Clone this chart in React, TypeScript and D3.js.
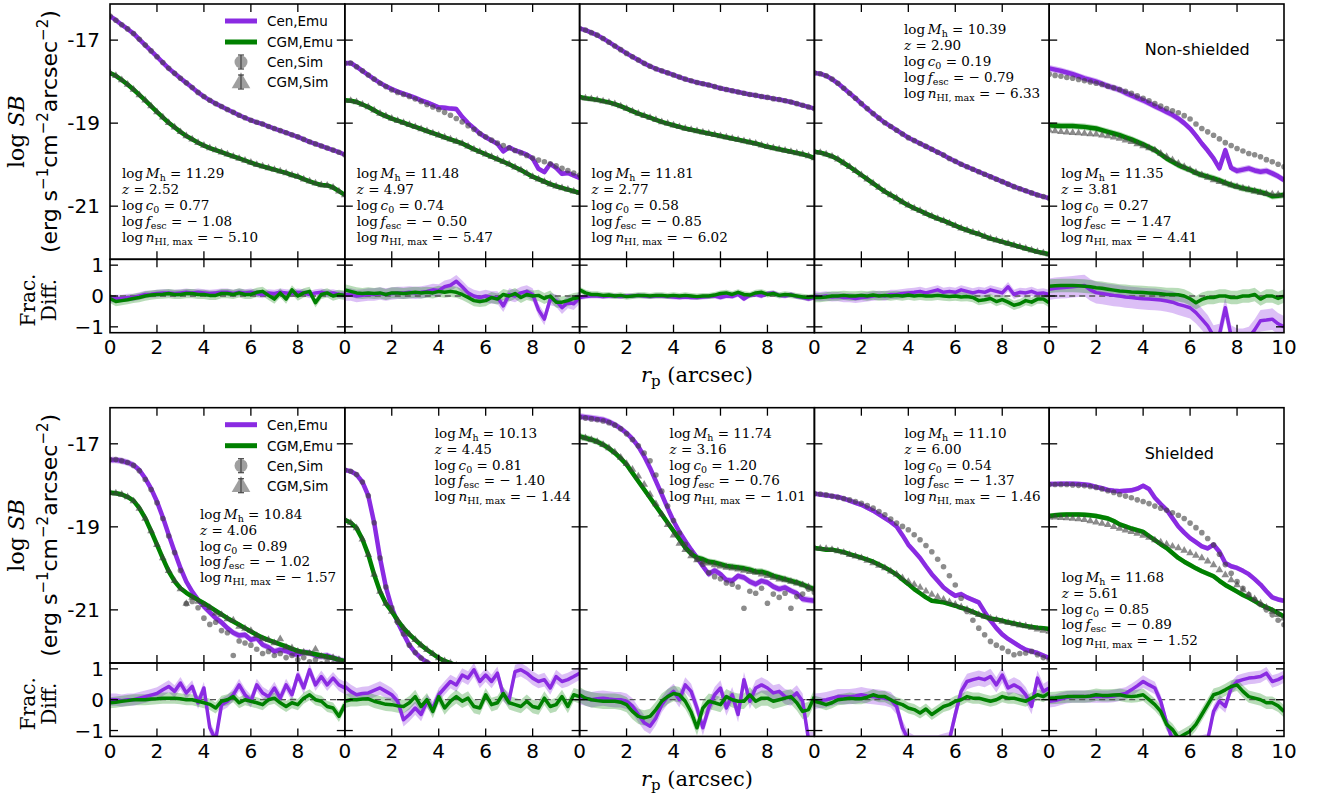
import React from "react";
import * as d3 from "d3";

// ---------------- data ----------------
const rp = [0,0.25,0.5,0.75,1,1.25,1.5,1.75,2,2.25,2.5,2.75,3,3.25,3.5,3.75,4,4.25,4.5,4.75,5,5.25,5.5,5.75,6,6.25,6.5,6.75,7,7.25,7.5,7.75,8,8.25,8.5,8.75,9,9.25,9.5,9.75,10];
const xTickVals = [0, 2, 4, 6, 8, 10];
const yTickMain = [-17, -19, -21];
const yTickRes = [1, 0, -1];

const LOG_MH = [11.29, 11.48, 11.81, 10.39, 11.35, 10.84, 10.13, 11.74, 11.10, 11.68];
const Z_RED = [2.52, 4.97, 2.77, 2.90, 3.81, 4.06, 4.45, 3.16, 6.00, 5.61];
const LOG_C0 = [0.77, 0.74, 0.58, 0.19, 0.27, 0.89, 0.81, 1.20, 0.54, 0.85];
const LOG_FESC = [-1.08, -0.50, -0.85, -0.79, -1.47, -1.02, -1.40, -0.76, -1.37, -0.89];
const LOG_NHI = [-5.10, -5.47, -6.02, -6.33, -4.41, -1.57, -1.44, -1.01, -1.46, -1.52];

const MAIN_BAND_CEN = [0.04, 0.06, 0.03, 0.05, 0.08, 0.08, 0.05, 0.08, 0.06, 0.06];
const MAIN_BAND_CGM = [0.04, 0.05, 0.03, 0.05, 0.08, 0.06, 0.05, 0.08, 0.05, 0.06];
const RES_BAND_CEN = [0.12, 0.2, 0.08, 0.15, 0.35, 0.2, 0.22, 0.25, 0.25, 0.2];
const RES_BAND_CGM = [0.15, 0.18, 0.1, 0.15, 0.22, 0.18, 0.22, 0.25, 0.18, 0.2];

// top row
const T1_CEN = [-16.42,-16.52,-16.63,-16.73,-16.84,-16.98,-17.12,-17.26,-17.40,-17.54,-17.68,-17.80,-17.92,-18.03,-18.14,-18.26,-18.36,-18.45,-18.53,-18.60,-18.67,-18.74,-18.81,-18.87,-18.93,-18.98,-19.02,-19.08,-19.13,-19.18,-19.23,-19.28,-19.33,-19.39,-19.45,-19.50,-19.55,-19.60,-19.65,-19.70,-19.76];
const T1_CGM = [-17.79,-17.86,-17.96,-18.07,-18.19,-18.32,-18.45,-18.59,-18.73,-18.86,-18.99,-19.10,-19.21,-19.31,-19.39,-19.47,-19.54,-19.60,-19.65,-19.70,-19.75,-19.80,-19.85,-19.90,-19.95,-20.00,-20.04,-20.08,-20.12,-20.16,-20.20,-20.25,-20.29,-20.35,-20.40,-20.45,-20.49,-20.50,-20.55,-20.64,-20.73];
const T1_RES_CEN = [-0.10,-0.08,-0.08,-0.05,-0.05,0.00,0.05,0.06,0.08,0.10,0.10,0.08,0.10,0.12,0.10,0.12,0.10,0.08,0.10,0.12,0.12,0.08,0.12,0.10,0.12,0.08,0.05,0.10,0.08,0.12,0.10,0.08,0.12,0.10,0.05,0.10,0.12,0.08,0.10,0.05,0.05];
const T1_RES_CGM = [-0.08,-0.18,-0.15,-0.12,-0.08,-0.05,0.00,0.03,0.05,0.06,0.08,0.05,0.05,0.08,0.08,0.05,0.05,0.02,0.02,0.08,0.08,0.05,0.10,0.05,0.05,0.12,0.15,0.02,-0.10,0.10,-0.10,0.20,0.00,0.10,0.15,-0.22,0.05,0.10,0.00,0.05,0.02];

const T2_CEN_SIM = [-17.56,-17.55,-17.64,-17.74,-17.84,-17.94,-18.04,-18.12,-18.20,-18.26,-18.31,-18.36,-18.42,-18.48,-18.55,-18.61,-18.67,-18.74,-18.81,-18.89,-18.97,-19.06,-19.15,-19.25,-19.33,-19.41,-19.48,-19.54,-19.60,-19.66,-19.72,-19.78,-19.84,-19.89,-19.93,-19.98,-20.03,-20.09,-20.14,-20.20,-20.25];
const T2_CEN_EMU = [-17.56,-17.55,-17.64,-17.74,-17.84,-17.94,-18.03,-18.11,-18.18,-18.24,-18.29,-18.34,-18.39,-18.45,-18.50,-18.56,-18.62,-18.63,-18.65,-18.66,-18.85,-19.00,-19.12,-19.25,-19.34,-19.42,-19.50,-19.68,-19.58,-19.66,-19.70,-19.76,-19.85,-20.10,-20.18,-19.98,-20.08,-20.22,-20.20,-20.26,-20.32];
const T2_CGM = [-18.45,-18.46,-18.49,-18.55,-18.61,-18.69,-18.77,-18.83,-18.89,-18.94,-18.99,-19.04,-19.09,-19.14,-19.19,-19.24,-19.29,-19.34,-19.39,-19.44,-19.49,-19.56,-19.63,-19.69,-19.75,-19.81,-19.87,-19.93,-19.99,-20.06,-20.13,-20.21,-20.29,-20.35,-20.41,-20.47,-20.52,-20.56,-20.60,-20.64,-20.68];
const T2_RES_CEN = [0.05,0.05,0.00,0.02,0.05,0.05,0.08,0.05,0.08,0.10,0.10,0.12,0.10,0.12,0.15,0.20,0.18,0.30,0.35,0.48,0.30,0.10,0.00,-0.05,0.00,-0.05,-0.05,-0.32,0.05,0.00,0.10,0.15,0.05,-0.45,-0.75,-0.10,-0.15,-0.38,-0.20,-0.25,-0.05];
const T2_RES_CGM = [0.20,0.15,0.10,0.08,0.10,0.08,0.10,0.05,0.10,0.10,0.08,0.10,0.12,0.10,0.12,0.10,0.15,0.12,0.15,0.12,0.05,-0.05,-0.15,-0.18,-0.15,-0.05,-0.10,0.05,0.00,0.08,-0.05,0.05,0.00,0.02,-0.08,0.00,-0.20,-0.20,-0.15,-0.08,-0.05];

const T3_CEN = [-16.72,-16.76,-16.82,-16.88,-16.96,-17.05,-17.14,-17.23,-17.32,-17.40,-17.48,-17.56,-17.63,-17.69,-17.74,-17.79,-17.84,-17.89,-17.94,-17.98,-18.02,-18.05,-18.08,-18.12,-18.16,-18.19,-18.22,-18.25,-18.28,-18.31,-18.33,-18.36,-18.38,-18.41,-18.43,-18.46,-18.49,-18.53,-18.57,-18.61,-18.65];
const T3_CGM = [-18.37,-18.40,-18.42,-18.44,-18.47,-18.50,-18.54,-18.59,-18.65,-18.71,-18.77,-18.82,-18.87,-18.92,-18.97,-19.01,-19.05,-19.09,-19.13,-19.16,-19.19,-19.22,-19.25,-19.28,-19.31,-19.34,-19.37,-19.40,-19.43,-19.46,-19.49,-19.53,-19.57,-19.60,-19.63,-19.66,-19.69,-19.72,-19.75,-19.79,-19.84];
const T3_RES_CEN = [-0.05,-0.02,0.00,0.00,-0.02,0.00,0.00,-0.02,0.00,0.00,0.02,0.00,-0.02,0.00,0.00,-0.02,-0.03,-0.05,-0.03,-0.05,-0.05,-0.03,-0.02,0.00,-0.05,0.00,-0.02,0.05,-0.10,0.02,0.05,0.00,0.08,0.10,0.02,0.00,0.05,-0.02,-0.05,-0.10,-0.05];
const T3_RES_CGM = [0.20,0.10,0.05,0.05,0.02,0.03,0.00,0.02,-0.02,0.00,0.02,0.02,0.00,0.02,0.02,0.00,0.02,0.00,0.02,0.00,-0.02,0.00,0.00,0.03,0.08,0.10,0.05,0.12,0.05,0.03,0.10,0.12,0.05,0.08,0.02,0.05,0.03,0.00,-0.03,-0.05,-0.02];

const T4_CEN = [-17.79,-17.81,-17.86,-17.94,-18.04,-18.16,-18.28,-18.40,-18.53,-18.65,-18.77,-18.88,-18.99,-19.08,-19.17,-19.26,-19.35,-19.42,-19.49,-19.56,-19.63,-19.70,-19.77,-19.85,-19.92,-19.99,-20.05,-20.11,-20.17,-20.23,-20.29,-20.35,-20.41,-20.47,-20.53,-20.58,-20.63,-20.68,-20.73,-20.77,-20.81];
const T4_CGM = [-19.69,-19.71,-19.75,-19.80,-19.87,-19.96,-20.05,-20.15,-20.25,-20.35,-20.45,-20.55,-20.65,-20.73,-20.81,-20.90,-20.98,-21.05,-21.11,-21.18,-21.24,-21.30,-21.35,-21.41,-21.47,-21.53,-21.58,-21.63,-21.67,-21.73,-21.78,-21.82,-21.86,-21.90,-21.94,-21.98,-22.02,-22.06,-22.10,-22.13,-22.16];
const T4_RES_CEN = [0.00,-0.02,0.00,-0.03,-0.02,-0.05,-0.05,-0.08,-0.05,-0.03,0.00,0.02,0.00,0.05,0.05,0.08,0.10,0.12,0.15,0.10,0.15,0.20,0.12,0.15,0.12,0.20,0.15,0.10,0.15,0.12,0.20,0.15,0.10,0.30,0.05,0.12,0.10,0.15,0.08,0.10,0.05];
const T4_RES_CGM = [-0.05,-0.05,-0.03,0.00,0.00,0.02,0.00,0.00,0.02,0.00,0.03,0.00,0.02,0.00,0.02,0.00,0.03,0.00,0.02,0.00,0.00,0.02,0.00,-0.02,0.00,-0.03,-0.02,-0.05,-0.15,-0.12,-0.08,-0.18,-0.12,-0.20,-0.30,-0.25,-0.15,-0.20,-0.10,-0.10,-0.22];

const T5_CEN_SIM = [-17.82,-17.85,-17.87,-17.90,-17.92,-17.95,-17.98,-18.01,-18.04,-18.07,-18.11,-18.15,-18.19,-18.23,-18.28,-18.34,-18.40,-18.46,-18.53,-18.59,-18.65,-18.70,-18.75,-18.82,-18.90,-19.02,-19.13,-19.21,-19.29,-19.38,-19.47,-19.54,-19.61,-19.67,-19.73,-19.76,-19.81,-19.88,-19.93,-19.99,-20.05];
const T5_CEN_EMU = [-17.68,-17.71,-17.74,-17.78,-17.82,-17.87,-17.92,-17.96,-18.00,-18.05,-18.11,-18.15,-18.20,-18.27,-18.33,-18.39,-18.45,-18.52,-18.59,-18.66,-18.73,-18.80,-18.89,-19.00,-19.13,-19.30,-19.49,-19.66,-19.85,-20.09,-19.65,-20.08,-20.15,-20.12,-20.09,-20.14,-20.17,-20.15,-20.21,-20.28,-20.37];
const T5_CGM_SIM = [-19.17,-19.19,-19.21,-19.22,-19.23,-19.24,-19.25,-19.26,-19.27,-19.29,-19.31,-19.34,-19.37,-19.41,-19.45,-19.50,-19.55,-19.60,-19.65,-19.73,-19.81,-19.89,-19.97,-20.05,-20.12,-20.19,-20.25,-20.31,-20.37,-20.41,-20.45,-20.49,-20.53,-20.57,-20.60,-20.64,-20.68,-20.70,-20.71,-20.72,-20.73];
const T5_CGM_EMU = [-19.05,-19.06,-19.07,-19.07,-19.07,-19.08,-19.09,-19.11,-19.13,-19.17,-19.21,-19.25,-19.29,-19.34,-19.39,-19.45,-19.51,-19.58,-19.65,-19.75,-19.85,-19.93,-20.01,-20.07,-20.13,-20.20,-20.25,-20.29,-20.33,-20.38,-20.44,-20.49,-20.53,-20.57,-20.60,-20.63,-20.66,-20.70,-20.76,-20.75,-20.73];
const T5_RES_CEN = [0.22,0.25,0.27,0.28,0.30,0.32,0.34,0.20,0.11,0.08,0.05,0.02,0.00,-0.03,-0.05,-0.07,-0.09,-0.10,-0.11,-0.13,-0.16,-0.20,-0.27,-0.32,-0.38,-0.54,-0.75,-0.97,-1.30,-1.25,-0.38,-1.30,-1.40,-1.40,-1.35,-1.10,-0.80,-0.78,-0.75,-0.90,-1.00];
const T5_RES_CGM = [0.32,0.33,0.34,0.34,0.34,0.33,0.32,0.30,0.27,0.25,0.22,0.19,0.16,0.15,0.13,0.12,0.11,0.10,0.09,0.07,0.05,0.05,0.04,0.00,-0.09,-0.22,-0.11,-0.05,-0.05,0.00,0.00,-0.05,-0.05,0.00,0.00,0.05,-0.10,0.00,0.00,-0.08,0.00];

// bottom row
const B1_CEN_EMU = [-17.39,-17.39,-17.41,-17.45,-17.51,-17.63,-17.83,-18.08,-18.39,-18.77,-19.19,-19.60,-19.99,-20.32,-20.56,-20.76,-20.92,-21.06,-21.20,-21.30,-21.44,-21.55,-21.62,-21.60,-21.72,-21.68,-21.84,-21.90,-22.00,-21.96,-21.99,-22.05,-22.08,-22.02,-22.04,-22.10,-22.12,-22.10,-22.16,-22.20,-22.24];
const B1_CEN_SIM = [-17.38,-17.38,-17.41,-17.45,-17.52,-17.65,-17.86,-18.10,-18.42,-18.80,-19.22,-19.62,-20.05,-20.85,-20.80,-20.95,-21.20,-21.35,-21.30,-21.50,-21.55,-22.10,-21.75,-21.80,-21.85,-21.95,-22.05,-22.00,-22.10,-22.05,-22.15,-22.10,-22.20,-22.15,-22.25,-22.20,-22.30,-22.25,-22.30,-22.35,-22.40];
const B1_CGM_EMU = [-18.18,-18.19,-18.22,-18.28,-18.37,-18.55,-18.79,-19.10,-19.43,-19.76,-20.07,-20.31,-20.48,-20.59,-20.68,-20.76,-20.84,-20.93,-21.02,-21.11,-21.20,-21.28,-21.36,-21.44,-21.52,-21.60,-21.67,-21.73,-21.78,-21.83,-21.88,-21.94,-21.99,-22.02,-22.04,-22.07,-22.10,-22.13,-22.16,-22.20,-22.24];
const B1_CGM_SIM = [-18.18,-18.19,-18.22,-18.28,-18.38,-18.56,-18.80,-19.10,-19.43,-19.75,-20.06,-20.30,-20.50,-20.85,-20.70,-20.80,-20.88,-20.95,-21.08,-21.12,-21.22,-21.25,-21.40,-21.45,-21.50,-21.62,-21.70,-21.72,-21.80,-21.70,-21.90,-21.92,-22.00,-22.02,-22.05,-21.95,-22.12,-22.15,-22.15,-22.20,-22.25];
const B1_RES_CEN = [0.00,0.00,-0.03,0.00,0.00,0.05,0.10,0.15,0.20,0.32,0.43,0.27,0.54,0.22,0.43,-0.10,0.38,-0.91,-1.30,-0.16,-0.05,0.16,0.48,0.16,-0.05,0.48,0.22,0.10,0.38,0.05,0.48,0.16,0.80,0.38,0.97,0.48,0.75,0.48,0.70,0.48,0.38];
const B1_RES_CGM = [-0.10,-0.08,-0.05,-0.03,0.00,0.00,0.00,0.02,0.03,0.05,0.05,0.05,0.03,0.00,0.00,-0.05,-0.10,-0.15,-0.27,-0.05,0.00,0.10,-0.10,0.00,-0.05,-0.10,-0.16,0.00,0.05,-0.10,-0.22,-0.10,-0.16,0.05,0.16,0.00,-0.05,-0.22,-0.27,-0.54,-0.16];

const B2_CEN = [-17.63,-17.66,-17.74,-17.92,-18.25,-18.90,-19.75,-20.45,-20.95,-21.30,-21.58,-21.85,-22.03,-22.16,-22.26,-22.34,-22.42,null,null,null,null,null,null,null,null,null,null,null,null,null,null,null,null,null,null,null,null,null,null,null,null];
const B2_CGM = [-18.83,-18.90,-19.03,-19.30,-19.67,-20.15,-20.56,-20.85,-21.04,-21.25,-21.44,-21.59,-21.72,-21.85,-21.96,-22.06,-22.16,-22.23,-22.28,-22.34,-22.40,null,null,null,null,null,null,null,null,null,null,null,null,null,null,null,null,null,null,null,null];
const B2_RES_CEN = [0.43,0.27,0.16,0.20,0.22,0.30,0.38,0.27,0.16,-0.05,-0.65,-0.48,-0.27,-0.48,-0.05,-0.27,0.16,0.38,0.59,0.48,0.80,0.70,0.97,0.59,0.80,0.59,0.86,0.16,0.00,0.91,0.97,0.86,0.70,0.59,0.65,0.38,0.75,0.59,0.65,0.75,0.86];
const B2_RES_CGM = [-0.05,0.00,0.00,0.02,0.03,-0.05,-0.10,-0.15,-0.16,-0.20,-0.22,-0.10,0.10,-0.22,0.00,-0.38,0.10,-0.27,-0.05,0.10,-0.05,0.05,-0.22,-0.27,0.16,-0.16,-0.10,0.20,-0.10,-0.16,-0.22,-0.05,-0.22,-0.27,0.05,-0.22,-0.16,0.10,-0.22,0.16,0.10];

const B3_CEN_EMU = [-16.34,-16.36,-16.38,-16.40,-16.42,-16.47,-16.54,-16.63,-16.74,-16.88,-17.06,-17.30,-17.58,-17.90,-18.22,-18.55,-18.86,-19.12,-19.34,-19.55,-19.74,-19.95,-20.14,-20.05,-20.14,-20.28,-20.30,-20.18,-20.22,-20.32,-20.38,-20.30,-20.34,-20.44,-20.50,-20.46,-20.54,-20.60,-20.74,-20.76,-20.78];
const B3_CEN_SIM = [-16.36,-16.38,-16.40,-16.42,-16.45,-16.49,-16.55,-16.64,-16.76,-16.90,-17.05,-17.22,-17.41,-17.75,-18.14,-18.50,-18.85,-19.15,-19.42,-19.62,-19.78,-19.90,-20.10,-20.20,-20.25,-20.35,-20.38,-20.45,-20.96,-20.55,-20.60,-20.48,-20.84,-20.62,-20.70,-20.60,-20.96,-20.68,-20.62,-20.50,-20.58];
const B3_CGM_EMU = [-16.82,-16.86,-16.90,-16.95,-17.02,-17.11,-17.22,-17.35,-17.50,-17.70,-17.90,-18.10,-18.30,-18.50,-18.70,-18.90,-19.10,-19.30,-19.50,-19.65,-19.74,-19.78,-19.84,-19.86,-19.90,-19.94,-19.96,-19.98,-20.00,-20.03,-20.08,-20.08,-20.12,-20.18,-20.22,-20.26,-20.30,-20.34,-20.39,-20.45,-20.50];
const B3_CGM_SIM = [-16.82,-16.86,-16.90,-16.95,-17.02,-17.10,-17.20,-17.33,-17.48,-17.62,-17.78,-17.98,-18.22,-18.45,-18.70,-18.95,-19.20,-19.40,-19.55,-19.70,-19.80,-19.85,-19.88,-19.92,-19.95,-19.98,-20.00,-20.02,-20.05,-20.08,-20.10,-20.14,-20.18,-20.22,-20.26,-20.28,-20.32,-20.36,-20.40,-20.45,-20.50];
const B3_RES_CEN = [0.10,0.05,0.00,0.03,0.05,0.02,0.00,0.00,-0.05,-0.20,-0.48,-0.75,-0.86,-0.59,-0.16,0.10,0.27,0.00,0.48,0.27,-0.27,-0.91,-0.27,0.16,0.38,-0.27,0.16,-0.48,0.65,-0.05,0.38,0.48,0.38,0.22,0.27,0.10,0.05,0.22,-0.05,-1.30,-1.30];
const B3_RES_CGM = [0.16,0.05,0.00,-0.03,-0.05,-0.05,-0.05,-0.08,-0.16,-0.38,-0.54,-0.59,-0.54,-0.32,-0.05,0.10,0.20,0.16,-0.05,-0.40,-0.91,-0.27,-0.05,-0.10,-0.16,0.10,0.00,-0.05,-0.05,0.16,-0.05,0.05,0.05,-0.05,0.00,0.05,0.10,-0.10,-0.38,-0.32,0.10];

const B4_CEN_SIM = [-18.20,-18.21,-18.23,-18.26,-18.29,-18.32,-18.35,-18.39,-18.43,-18.49,-18.55,-18.63,-18.71,-18.81,-18.91,-18.99,-19.07,-19.19,-19.31,-19.45,-19.60,-19.78,-19.96,-20.18,-20.40,-20.72,-21.04,-21.25,-21.44,-21.60,-21.76,-21.85,-21.92,-22.00,-22.08,-22.05,-22.04,-22.00,-22.08,-22.15,-22.20];
const B4_CEN_EMU = [-18.20,-18.22,-18.24,-18.26,-18.28,-18.32,-18.37,-18.42,-18.47,-18.54,-18.61,-18.70,-18.79,-18.88,-18.99,-19.20,-19.43,-19.59,-19.75,-19.95,-20.14,-20.30,-20.46,-20.57,-20.66,-20.62,-20.70,-20.76,-20.82,-21.05,-21.26,-21.44,-21.59,-21.70,-21.79,-21.88,-21.96,-22.00,-22.04,-22.10,-22.16];
const B4_CGM_SIM = [-19.51,-19.52,-19.53,-19.55,-19.58,-19.62,-19.67,-19.71,-19.75,-19.81,-19.87,-19.93,-19.99,-20.07,-20.14,-20.23,-20.32,-20.39,-20.46,-20.55,-20.63,-20.69,-20.75,-20.81,-20.87,-20.93,-20.99,-21.06,-21.12,-21.16,-21.20,-21.24,-21.28,-21.31,-21.34,-21.37,-21.39,-21.43,-21.47,-21.50,-21.52];
const B4_CGM_EMU = [-19.51,-19.53,-19.55,-19.55,-19.58,-19.61,-19.66,-19.70,-19.74,-19.79,-19.84,-19.91,-19.98,-20.06,-20.15,-20.27,-20.38,-20.50,-20.60,-20.70,-20.78,-20.80,-20.82,-20.86,-20.90,-20.95,-20.99,-21.05,-21.11,-21.16,-21.21,-21.23,-21.26,-21.30,-21.33,-21.36,-21.39,-21.41,-21.43,-21.44,-21.46];
const B4_RES_CEN = [-0.05,-0.03,0.00,0.05,0.10,0.10,0.10,0.12,0.16,0.12,0.10,0.08,0.05,0.00,-0.22,-0.91,-1.30,-1.40,-1.40,-1.40,-1.40,-1.40,-1.35,-1.30,-0.48,0.27,0.59,0.65,0.70,0.65,0.75,0.48,0.80,0.38,0.48,0.38,0.16,-0.22,0.70,0.27,0.38];
const B4_RES_CGM = [-0.05,-0.10,-0.16,-0.10,0.00,0.02,0.05,0.03,0.03,0.08,0.16,0.10,0.10,0.00,-0.10,-0.16,-0.27,-0.32,-0.43,-0.30,-0.48,-0.35,-0.22,-0.16,-0.05,0.00,0.10,0.05,0.05,0.00,-0.05,0.00,0.10,0.05,0.05,0.00,-0.05,0.05,0.16,0.10,0.22];

const B5_CEN_SIM = [-17.98,-17.98,-17.98,-17.98,-17.99,-18.00,-18.01,-18.03,-18.05,-18.09,-18.13,-18.17,-18.22,-18.26,-18.30,-18.35,-18.39,-18.44,-18.50,-18.55,-18.60,-18.66,-18.72,-18.80,-18.91,-19.02,-19.14,-19.28,-19.43,-19.66,-19.91,-20.12,-20.32,-20.48,-20.63,-20.75,-20.87,-21.00,-21.12,-21.25,-21.36];
const B5_CEN_EMU = [-17.97,-17.97,-17.96,-17.96,-17.96,-17.97,-17.98,-18.00,-18.04,-18.07,-18.11,-18.13,-18.14,-18.13,-18.12,-18.08,-18.01,-18.09,-18.30,-18.45,-18.59,-18.79,-18.99,-19.14,-19.27,-19.37,-19.47,-19.52,-19.43,-19.60,-19.87,-19.95,-19.99,-20.06,-20.14,-20.26,-20.39,-20.55,-20.70,-20.75,-20.78];
const B5_CGM_SIM = [-18.77,-18.77,-18.78,-18.79,-18.80,-18.81,-18.83,-18.86,-18.89,-18.92,-18.95,-19.00,-19.04,-19.08,-19.12,-19.16,-19.21,-19.26,-19.32,-19.37,-19.42,-19.47,-19.51,-19.57,-19.63,-19.69,-19.75,-19.83,-19.92,-20.04,-20.16,-20.28,-20.40,-20.52,-20.64,-20.74,-20.84,-20.94,-21.04,-21.12,-21.20];
const B5_CGM_EMU = [-18.74,-18.72,-18.71,-18.70,-18.70,-18.70,-18.71,-18.72,-18.74,-18.77,-18.80,-18.86,-18.94,-18.99,-19.04,-19.08,-19.12,-19.22,-19.32,-19.42,-19.51,-19.63,-19.75,-19.84,-19.92,-20.00,-20.07,-20.13,-20.19,-20.30,-20.40,-20.48,-20.56,-20.64,-20.71,-20.79,-20.87,-20.94,-21.00,-21.08,-21.16];
const B5_RES_CEN = [-0.05,-0.03,0.03,0.08,0.10,0.10,0.10,0.10,0.10,0.10,0.10,0.12,0.16,0.20,0.32,0.45,0.59,0.48,0.38,-0.05,-0.75,-1.30,-1.40,-1.40,-1.40,-1.40,-1.35,-1.30,-0.38,-0.05,-0.22,0.38,0.59,0.65,0.70,0.72,0.75,0.86,0.59,0.65,0.75];
const B5_RES_CGM = [0.05,0.06,0.08,0.10,0.10,0.10,0.10,0.12,0.16,0.14,0.14,0.15,0.16,0.12,0.10,0.12,0.16,0.00,-0.16,-0.38,-0.80,-0.97,-1.24,-1.13,-1.02,-0.80,-0.48,-0.16,0.16,0.22,0.32,0.43,0.48,0.27,0.10,0.05,0.00,-0.10,-0.10,-0.20,-0.38];

type Prof = (number | null)[];
interface PanelData { cenEmu: Prof; cenSim: Prof; cgmEmu: Prof; cgmSim: Prof; resCen: Prof; resCgm: Prof; }

const PANELS: PanelData[] = [
  { cenEmu: T1_CEN, cenSim: T1_CEN, cgmEmu: T1_CGM, cgmSim: T1_CGM, resCen: T1_RES_CEN, resCgm: T1_RES_CGM },
  { cenEmu: T2_CEN_EMU, cenSim: T2_CEN_SIM, cgmEmu: T2_CGM, cgmSim: T2_CGM, resCen: T2_RES_CEN, resCgm: T2_RES_CGM },
  { cenEmu: T3_CEN, cenSim: T3_CEN, cgmEmu: T3_CGM, cgmSim: T3_CGM, resCen: T3_RES_CEN, resCgm: T3_RES_CGM },
  { cenEmu: T4_CEN, cenSim: T4_CEN, cgmEmu: T4_CGM, cgmSim: T4_CGM, resCen: T4_RES_CEN, resCgm: T4_RES_CGM },
  { cenEmu: T5_CEN_EMU, cenSim: T5_CEN_SIM, cgmEmu: T5_CGM_EMU, cgmSim: T5_CGM_SIM, resCen: T5_RES_CEN, resCgm: T5_RES_CGM },
  { cenEmu: B1_CEN_EMU, cenSim: B1_CEN_SIM, cgmEmu: B1_CGM_EMU, cgmSim: B1_CGM_SIM, resCen: B1_RES_CEN, resCgm: B1_RES_CGM },
  { cenEmu: B2_CEN, cenSim: B2_CEN, cgmEmu: B2_CGM, cgmSim: B2_CGM, resCen: B2_RES_CEN, resCgm: B2_RES_CGM },
  { cenEmu: B3_CEN_EMU, cenSim: B3_CEN_SIM, cgmEmu: B3_CGM_EMU, cgmSim: B3_CGM_SIM, resCen: B3_RES_CEN, resCgm: B3_RES_CGM },
  { cenEmu: B4_CEN_EMU, cenSim: B4_CEN_SIM, cgmEmu: B4_CGM_EMU, cgmSim: B4_CGM_SIM, resCen: B4_RES_CEN, resCgm: B4_RES_CGM },
  { cenEmu: B5_CEN_EMU, cenSim: B5_CEN_SIM, cgmEmu: B5_CGM_EMU, cgmSim: B5_CGM_SIM, resCen: B5_RES_CEN, resCgm: B5_RES_CGM },
];

// ---------------- layout / style ----------------
const W = 1327, H = 800;
const PL = 110, PW = 234.8;
const MAIN_H = 255.3, RES_H = 73.4;
const BLOCK_TOPS = [4, 407.7];
const Y_DOMAIN = [-22.28, -16.13];
const RES_DOMAIN = [-1.19, 1.19];
const PURPLE = "#8a2be2";
const GREEN = "#008000";
const SIM_FILL = "#404040";
const ANN_X = [12, 12, 12, 89.6, 12, 90, 90, 90, 90, 12.5];
const ANN_Y = [174, 174, 174, 30, 174, 111, 30, 30, 30, 174];
const TICK = 8;
const ANN_FS = 13.5;

const fmtV = (v: number) => (v < 0 ? "\u2212 " + Math.abs(v).toFixed(2) : v.toFixed(2));

function Annot({ x, y, i }: { x: number; y: number; i: number }) {
  const lh = 15.9, sub = 9.5;
  const LOG = "log\u2009";
  return (
    <g fontFamily="DejaVu Serif" fontSize={ANN_FS} fill="#000">
      <text x={x} y={y}>{LOG}<tspan fontStyle="italic">M</tspan><tspan fontSize={sub} dy={3}>h</tspan><tspan dy={-3}>{" = " + fmtV(LOG_MH[i])}</tspan></text>
      <text x={x} y={y + lh}><tspan fontStyle="italic">z</tspan>{" = " + fmtV(Z_RED[i])}</text>
      <text x={x} y={y + 2 * lh}>{LOG}<tspan fontStyle="italic">c</tspan><tspan fontSize={sub} dy={3}>0</tspan><tspan dy={-3}>{" = " + fmtV(LOG_C0[i])}</tspan></text>
      <text x={x} y={y + 3 * lh}>{LOG}<tspan fontStyle="italic">f</tspan><tspan fontSize={sub} dy={3}>esc</tspan><tspan dy={-3}>{" = " + fmtV(LOG_FESC[i])}</tspan></text>
      <text x={x} y={y + 4 * lh}>{LOG}<tspan fontStyle="italic">n</tspan><tspan fontSize={sub} dy={3}>HI, max</tspan><tspan dy={-3}>{" = " + fmtV(LOG_NHI[i])}</tspan></text>
    </g>
  );
}

function Legend({ x0, top }: { x0: number; top: number }) {
  const sx = x0 + 115, tx = x0 + 157, mx = x0 + 131;
  const rows = [17, 38, 58, 78].map((d) => top + d);
  const tri = d3.symbol().type(d3.symbolTriangle).size(150)() as string;
  return (
    <g fontFamily="DejaVu Sans" fontSize={13.5}>
      <line x1={sx} x2={sx + 32} y1={rows[0]} y2={rows[0]} stroke={PURPLE} strokeWidth={5} />
      <text x={tx} y={rows[0] + 5}>Cen,Emu</text>
      <line x1={sx} x2={sx + 32} y1={rows[1]} y2={rows[1]} stroke={GREEN} strokeWidth={5} />
      <text x={tx} y={rows[1] + 5}>CGM,Emu</text>
      <circle cx={mx} cy={rows[2]} r={6.5} fill={SIM_FILL} fillOpacity={0.5} />
      <line x1={mx} x2={mx} y1={rows[2] - 7} y2={rows[2] + 7} stroke="#444" strokeWidth={1.2} />
      <line x1={mx - 3} x2={mx + 3} y1={rows[2] - 7} y2={rows[2] - 7} stroke="#444" strokeWidth={1.2} />
      <line x1={mx - 3} x2={mx + 3} y1={rows[2] + 7} y2={rows[2] + 7} stroke="#444" strokeWidth={1.2} />
      <text x={tx} y={rows[2] + 5}>Cen,Sim</text>
      <path d={tri} transform={`translate(${mx},${rows[3] + 1})`} fill={SIM_FILL} fillOpacity={0.5} />
      <line x1={mx} x2={mx} y1={rows[3] - 7} y2={rows[3] + 7} stroke="#444" strokeWidth={1.2} />
      <line x1={mx - 3} x2={mx + 3} y1={rows[3] - 7} y2={rows[3] - 7} stroke="#444" strokeWidth={1.2} />
      <line x1={mx - 3} x2={mx + 3} y1={rows[3] + 7} y2={rows[3] + 7} stroke="#444" strokeWidth={1.2} />
      <text x={tx} y={rows[3] + 5}>CGM,Sim</text>
    </g>
  );
}

function Panel({ p, idx, top, gi }: { p: PanelData; idx: number; top: number; gi: number }) {
  const x0 = PL + idx * PW, x1 = x0 + PW;
  const x = d3.scaleLinear().domain([0, 10]).range([x0, x1]);
  const y = d3.scaleLinear().domain(Y_DOMAIN).range([top + MAIN_H, top]);
  const rTop = top + MAIN_H, rBot = rTop + RES_H;
  const yr = d3.scaleLinear().domain(RES_DOMAIN).range([rBot, rTop]);
  const pts = (arr: Prof) => rp.map((r, i) => [r, arr[i]] as [number, number | null]);
  const lineM = d3.line<[number, number | null]>().defined((d) => d[1] != null).x((d) => x(d[0])).y((d) => y(d[1] as number));
  const lineR = d3.line<[number, number | null]>().defined((d) => d[1] != null).x((d) => x(d[0])).y((d) => yr(d[1] as number));
  const bandM = (bw: number) => d3.area<[number, number | null]>().defined((d) => d[1] != null).x((d) => x(d[0])).y0((d) => y((d[1] as number) - bw)).y1((d) => y((d[1] as number) + bw));
  const bandR = (bw: number) => d3.area<[number, number | null]>().defined((d) => d[1] != null).x((d) => x(d[0])).y0((d) => yr((d[1] as number) - bw)).y1((d) => yr((d[1] as number) + bw));
  const tri = d3.symbol().type(d3.symbolTriangle).size(26)() as string;
  const cm = `cm${gi}`, cr = `cr${gi}`;
  const xt = [2, 4, 6, 8];
  return (
    <g>
      <defs>
        <clipPath id={cm}><rect x={x0} y={top} width={PW} height={MAIN_H} /></clipPath>
        <clipPath id={cr}><rect x={x0} y={rTop} width={PW} height={RES_H} /></clipPath>
      </defs>
      <g clipPath={`url(#${cm})`}>
        <path d={bandM(MAIN_BAND_CEN[gi])(pts(p.cenEmu)) || ""} fill={PURPLE} fillOpacity={0.35} />
        <path d={bandM(MAIN_BAND_CGM[gi])(pts(p.cgmEmu)) || ""} fill={GREEN} fillOpacity={0.3} />
        <path d={lineM(pts(p.cenEmu)) || ""} fill="none" stroke={PURPLE} strokeWidth={4.5} strokeLinejoin="round" />
        <path d={lineM(pts(p.cgmEmu)) || ""} fill="none" stroke={GREEN} strokeWidth={4.5} strokeLinejoin="round" />
        {pts(p.cenSim).filter((d) => d[1] != null).map((d, i) => (
          <circle key={"c" + i} cx={x(d[0])} cy={y(d[1] as number)} r={2.8} fill={SIM_FILL} fillOpacity={0.6} />
        ))}
        {pts(p.cgmSim).filter((d) => d[1] != null).map((d, i) => (
          <path key={"t" + i} d={tri} transform={`translate(${x(d[0])},${y(d[1] as number)})`} fill={SIM_FILL} fillOpacity={0.6} />
        ))}
      </g>
      <g clipPath={`url(#${cr})`}>
        <path d={bandR(RES_BAND_CEN[gi])(pts(p.resCen)) || ""} fill={PURPLE} fillOpacity={0.3} />
        <path d={bandR(RES_BAND_CGM[gi])(pts(p.resCgm)) || ""} fill={GREEN} fillOpacity={0.28} />
        <line x1={x0} x2={x1} y1={yr(0)} y2={yr(0)} stroke="#555" strokeWidth={1.3} strokeDasharray="6 4" />
        <path d={lineR(pts(p.resCen)) || ""} fill="none" stroke={PURPLE} strokeWidth={3.5} strokeLinejoin="round" />
        <path d={lineR(pts(p.resCgm)) || ""} fill="none" stroke={GREEN} strokeWidth={3.5} strokeLinejoin="round" />
      </g>
      <rect x={x0} y={top} width={PW} height={MAIN_H} fill="none" stroke="#000" strokeWidth={1.6} />
      <rect x={x0} y={rTop} width={PW} height={RES_H} fill="none" stroke="#000" strokeWidth={1.6} />
      <g stroke="#000" strokeWidth={1.3}>
        {xt.map((t) => (
          <g key={"xt" + t}>
            <line x1={x(t)} x2={x(t)} y1={top} y2={top + TICK} />
            <line x1={x(t)} x2={x(t)} y1={rTop} y2={rTop - TICK} />
            <line x1={x(t)} x2={x(t)} y1={rTop} y2={rTop + TICK} />
            <line x1={x(t)} x2={x(t)} y1={rBot} y2={rBot - TICK} />
          </g>
        ))}
        {yTickMain.map((t) => (
          <g key={"ym" + t}>
            <line x1={x0} x2={x0 + TICK} y1={y(t)} y2={y(t)} />
            <line x1={x1} x2={x1 - TICK} y1={y(t)} y2={y(t)} />
          </g>
        ))}
        {yTickRes.map((t) => (
          <g key={"yr" + t}>
            <line x1={x0} x2={x0 + TICK} y1={yr(t)} y2={yr(t)} />
            <line x1={x1} x2={x1 - TICK} y1={yr(t)} y2={yr(t)} />
          </g>
        ))}
      </g>
      <g fontFamily="DejaVu Sans" fontSize={20} textAnchor="middle">
        {xTickVals.filter((t) => t < 10 || idx === 4).map((t) => (
          <text key={"xl" + t} x={x(t)} y={rBot + 21.5}>{String(t)}</text>
        ))}
      </g>
      {idx === 0 && (
        <g fontFamily="DejaVu Sans" fontSize={20} textAnchor="end">
          {yTickMain.map((t) => (
            <text key={"yl" + t} x={x0 - 10} y={y(t) + 7}>{String(t)}</text>
          ))}
          {yTickRes.map((t) => (
            <text key={"yrl" + t} x={x0 - 6} y={yr(t) + 7}>{t < 0 ? "\u2212" + Math.abs(t) : String(t)}</text>
          ))}
        </g>
      )}
      <Annot x={x0 + ANN_X[gi]} y={top + ANN_Y[gi]} i={gi} />
      {idx === 0 && <Legend x0={x0} top={top} />}
    </g>
  );
}

function Block({ b }: { b: number }) {
  const top = BLOCK_TOPS[b];
  const mainC = top + MAIN_H / 2;
  const resC = top + MAIN_H + RES_H / 2 + 4;
  const midX = PL + (PW * 5) / 2;
  return (
    <g>
      {[0, 1, 2, 3, 4].map((i) => (
        <Panel key={i} p={PANELS[b * 5 + i]} idx={i} top={top} gi={b * 5 + i} />
      ))}
      <text transform={`translate(24,${mainC}) rotate(-90)`} textAnchor="middle" fontFamily="DejaVu Serif" fontSize={22}>
        {"log "}<tspan fontStyle="italic">SB</tspan>
      </text>
      <text transform={`translate(57,${mainC}) rotate(-90)`} textAnchor="middle" fontFamily="DejaVu Sans" fontSize={22}>
        {"(erg s"}<tspan fontSize={15} dy={-9}>{"\u22121"}</tspan><tspan dy={9}>cm</tspan><tspan fontSize={15} dy={-9}>{"\u22122"}</tspan><tspan dy={9}>arcsec</tspan><tspan fontSize={15} dy={-9}>{"\u22122"}</tspan><tspan dy={9}>)</tspan>
      </text>
      <text transform={`translate(35,${resC}) rotate(-90)`} textAnchor="middle" fontFamily="DejaVu Serif" fontSize={20}>Frac.</text>
      <text transform={`translate(56,${resC}) rotate(-90)`} textAnchor="middle" fontFamily="DejaVu Serif" fontSize={20}>Diff.</text>
      <text x={midX} y={top + 378} textAnchor="middle" fontFamily="DejaVu Serif" fontSize={21}>
        <tspan fontStyle="italic">r</tspan><tspan fontSize={15} dy={4}>p</tspan><tspan dy={-4}>{" (arcsec)"}</tspan>
      </text>
      <text x={PL + 4 * PW + 95.5} y={top + 51} fontFamily="DejaVu Sans" fontSize={16}>{b === 0 ? "Non-shielded" : "Shielded"}</text>
    </g>
  );
}

export default function App() {
  return (
    <svg width={W} height={H} style={{ position: "absolute", left: 0, top: 0, background: "#fff" }}>
      <rect x={0} y={0} width={W} height={H} fill="#fff" />
      <Block b={0} />
      <Block b={1} />
    </svg>
  );
}
